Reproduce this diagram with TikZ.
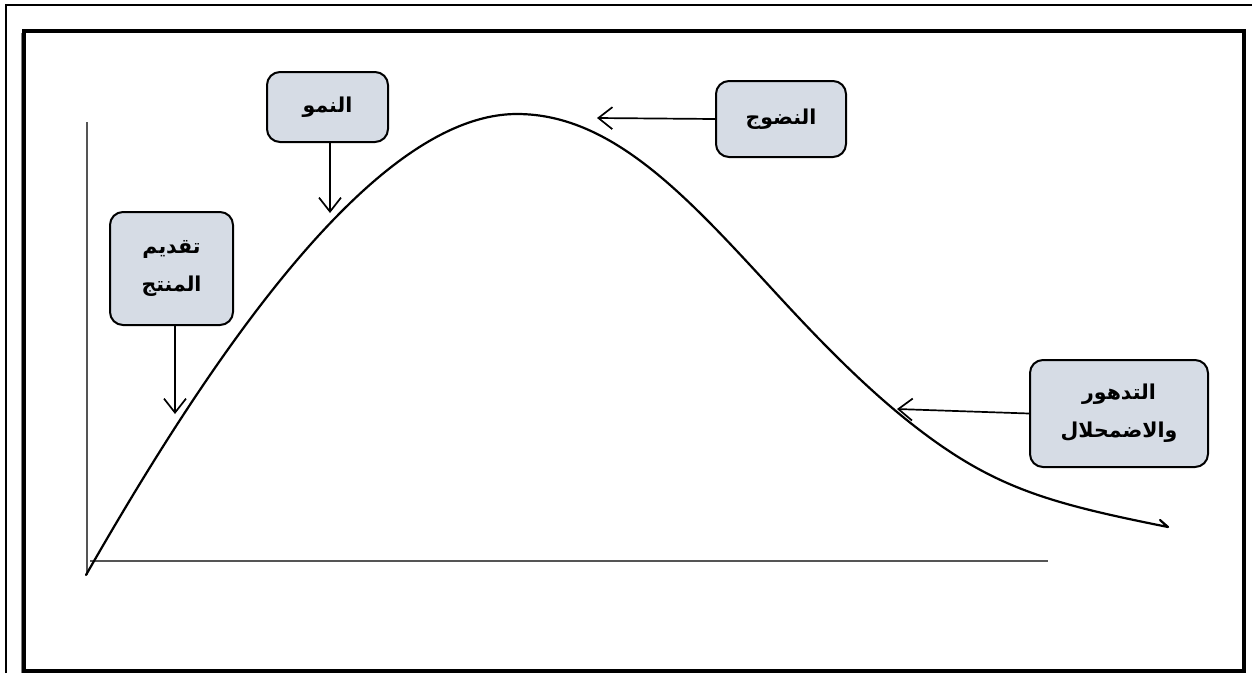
\documentclass[tikz,border=0pt]{standalone}
\usepackage{fontspec}
\usetikzlibrary{arrows.meta}
\newfontfamily\arabicfont[Script=Arabic]{DejaVu Sans}
\TeXXeTstate=1
\definecolor{stagefill}{HTML}{D6DCE5}
\definecolor{axisgray}{HTML}{555555}
\tikzset{
  stage/.style={draw, line width=2pt, rounded corners=13pt, fill=stagefill,
    align=center, inner sep=0pt,
    font=\arabicfont\bfseries\fontsize{20.5}{38}\selectfont},
  pointer/.style={line width=1.7pt,
    -{Straight Barb[length=14pt,width=22pt,line width=1.7pt]}},
  axis/.style={line width=1.6pt, axisgray},
}
\begin{document}
\begin{tikzpicture}[x=1pt,y=-1pt]
\useasboundingbox (0,0) rectangle (1252,673);
% page frame
\draw[line width=2pt] (6,673) -- (6,5) -- (1252,5);
\draw[line width=4pt] (24,31) rectangle (1244,671);
\draw[line width=1pt, gray] (21,33) -- (21,673);

% axes
\coordinate (yaxtop) at (87,122);
\coordinate (origin) at (87,575);
\coordinate (xaxleft) at (90,561);
\coordinate (xaxright) at (1048,561);
\draw[axis] (yaxtop) -- (origin);
\draw[axis] (xaxleft) -- (xaxright);

% life-cycle curve
\draw[line width=2.2pt, line join=round, line cap=round]
  (86,575) .. controls (216,347.5) and (377,114) .. (517,114)
  .. controls (617,114) and (695,205.8) .. (785,303)
  .. controls (835,357) and (883,404) .. (933,440)
  .. controls (1003,490.4) and (1058,505) .. (1168,527)
  -- (1160,520);

% stage labels
\node[stage, minimum width=123pt, minimum height=113pt] (intro) at (171.5,268.5)
  {\beginR تقديم\endR\\\beginR المنتج\endR};
\node[stage, minimum width=121pt, minimum height=70pt] (growth) at (327.5,107)
  {\beginR النمو\endR};
\node[stage, minimum width=130pt, minimum height=76pt] (maturity) at (781,119)
  {\beginR النضوج\endR};
\node[stage, minimum width=178pt, minimum height=107pt] (decline) at (1119,413.5)
  {\beginR التدهور\endR\\\beginR والاضمحلال\endR};

% pointers onto the curve
\coordinate (tintro) at (175,414);
\coordinate (tgrowth) at (330,213);
\coordinate (tmaturity) at (597,118);
\coordinate (tdecline) at (897,409);
\draw[pointer] (intro.south -| tintro) -- (tintro);
\draw[pointer] (growth.south -| tgrowth) -- (tgrowth);
\draw[pointer] (maturity.west) -- (tmaturity);
\draw[pointer] (decline.west) -- (tdecline);
\end{tikzpicture}
\end{document}
